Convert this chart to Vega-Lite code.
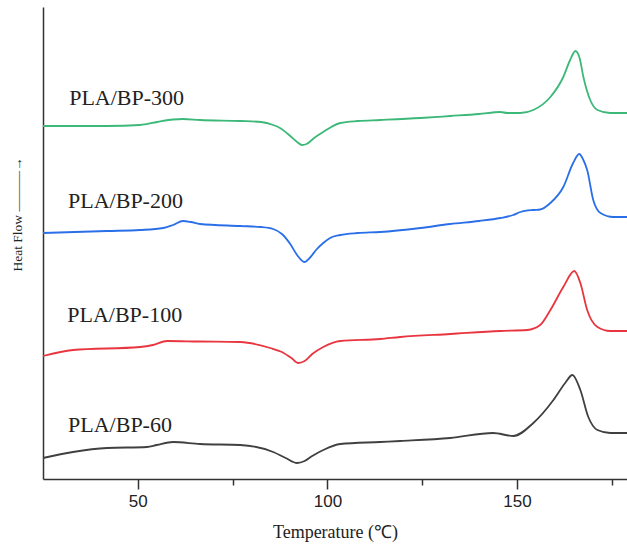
{
  "$schema": "https://vega.github.io/schema/vega-lite/v6.json",
  "autosize": {"type": "none"},
  "padding": {"left": 43, "top": 7, "right": 0, "bottom": 65},
  "width": 584,
  "height": 472,
  "background": "white",
  "config": {"view": {"stroke": null}, "axis": {"grid": false, "domainColor": "#333333", "domainWidth": 1.5, "tickColor": "#333333", "tickWidth": 1.5}},
  "datasets": {
    "curves": [
      {"sample": "PLA/BP-300", "T": 25.0, "hf": 353}, {"sample": "PLA/BP-300", "T": 41.9, "hf": 353}, {"sample": "PLA/BP-300", "T": 50.6, "hf": 354}, {"sample": "PLA/BP-300", "T": 55.1, "hf": 357}, {"sample": "PLA/BP-300", "T": 59.3, "hf": 359.5}, {"sample": "PLA/BP-300", "T": 61.9, "hf": 360}, {"sample": "PLA/BP-300", "T": 66.4, "hf": 359}, {"sample": "PLA/BP-300", "T": 77.0, "hf": 358}, {"sample": "PLA/BP-300", "T": 82.5, "hf": 357}, {"sample": "PLA/BP-300", "T": 85.7, "hf": 354}, {"sample": "PLA/BP-300", "T": 87.5, "hf": 351}, {"sample": "PLA/BP-300", "T": 90.2, "hf": 343}, {"sample": "PLA/BP-300", "T": 92.0, "hf": 337}, {"sample": "PLA/BP-300", "T": 93.3, "hf": 334}, {"sample": "PLA/BP-300", "T": 94.5, "hf": 335}, {"sample": "PLA/BP-300", "T": 96.5, "hf": 341}, {"sample": "PLA/BP-300", "T": 98.9, "hf": 347}, {"sample": "PLA/BP-300", "T": 101.0, "hf": 352}, {"sample": "PLA/BP-300", "T": 103.4, "hf": 356}, {"sample": "PLA/BP-300", "T": 108.0, "hf": 358}, {"sample": "PLA/BP-300", "T": 113.9, "hf": 359}, {"sample": "PLA/BP-300", "T": 124.5, "hf": 361}, {"sample": "PLA/BP-300", "T": 132.4, "hf": 363}, {"sample": "PLA/BP-300", "T": 140.0, "hf": 365}, {"sample": "PLA/BP-300", "T": 145.6, "hf": 367}, {"sample": "PLA/BP-300", "T": 147.5, "hf": 366}, {"sample": "PLA/BP-300", "T": 150.9, "hf": 366}, {"sample": "PLA/BP-300", "T": 154.3, "hf": 369}, {"sample": "PLA/BP-300", "T": 158.8, "hf": 382}, {"sample": "PLA/BP-300", "T": 162.2, "hf": 402}, {"sample": "PLA/BP-300", "T": 164.0, "hf": 419}, {"sample": "PLA/BP-300", "T": 165.4, "hf": 428}, {"sample": "PLA/BP-300", "T": 166.5, "hf": 421}, {"sample": "PLA/BP-300", "T": 167.5, "hf": 402}, {"sample": "PLA/BP-300", "T": 169.3, "hf": 379}, {"sample": "PLA/BP-300", "T": 171.2, "hf": 369}, {"sample": "PLA/BP-300", "T": 174.6, "hf": 366}, {"sample": "PLA/BP-300", "T": 179.0, "hf": 366},
      {"sample": "PLA/BP-200", "T": 25.0, "hf": 246}, {"sample": "PLA/BP-200", "T": 41.9, "hf": 248}, {"sample": "PLA/BP-200", "T": 50.6, "hf": 249}, {"sample": "PLA/BP-200", "T": 56.7, "hf": 251}, {"sample": "PLA/BP-200", "T": 59.3, "hf": 254}, {"sample": "PLA/BP-200", "T": 61.9, "hf": 258}, {"sample": "PLA/BP-200", "T": 64.0, "hf": 257}, {"sample": "PLA/BP-200", "T": 66.4, "hf": 255}, {"sample": "PLA/BP-200", "T": 77.0, "hf": 253}, {"sample": "PLA/BP-200", "T": 82.5, "hf": 252}, {"sample": "PLA/BP-200", "T": 85.7, "hf": 250}, {"sample": "PLA/BP-200", "T": 88.0, "hf": 245}, {"sample": "PLA/BP-200", "T": 90.2, "hf": 235}, {"sample": "PLA/BP-200", "T": 92.0, "hf": 224}, {"sample": "PLA/BP-200", "T": 93.9, "hf": 217}, {"sample": "PLA/BP-200", "T": 95.3, "hf": 221}, {"sample": "PLA/BP-200", "T": 97.0, "hf": 229}, {"sample": "PLA/BP-200", "T": 98.9, "hf": 236}, {"sample": "PLA/BP-200", "T": 100.7, "hf": 241}, {"sample": "PLA/BP-200", "T": 103.4, "hf": 244}, {"sample": "PLA/BP-200", "T": 108.0, "hf": 246}, {"sample": "PLA/BP-200", "T": 113.9, "hf": 247}, {"sample": "PLA/BP-200", "T": 124.5, "hf": 251}, {"sample": "PLA/BP-200", "T": 132.4, "hf": 255}, {"sample": "PLA/BP-200", "T": 140.0, "hf": 258}, {"sample": "PLA/BP-200", "T": 145.6, "hf": 261}, {"sample": "PLA/BP-200", "T": 149.0, "hf": 264}, {"sample": "PLA/BP-200", "T": 150.9, "hf": 267}, {"sample": "PLA/BP-200", "T": 154.3, "hf": 269}, {"sample": "PLA/BP-200", "T": 156.1, "hf": 269.5}, {"sample": "PLA/BP-200", "T": 158.8, "hf": 276}, {"sample": "PLA/BP-200", "T": 162.2, "hf": 292}, {"sample": "PLA/BP-200", "T": 164.8, "hf": 316}, {"sample": "PLA/BP-200", "T": 166.4, "hf": 325}, {"sample": "PLA/BP-200", "T": 167.5, "hf": 319}, {"sample": "PLA/BP-200", "T": 168.5, "hf": 309}, {"sample": "PLA/BP-200", "T": 170.1, "hf": 279}, {"sample": "PLA/BP-200", "T": 172.0, "hf": 266}, {"sample": "PLA/BP-200", "T": 175.4, "hf": 262}, {"sample": "PLA/BP-200", "T": 179.0, "hf": 262},
      {"sample": "PLA/BP-100", "T": 25.0, "hf": 123}, {"sample": "PLA/BP-100", "T": 32.9, "hf": 129}, {"sample": "PLA/BP-100", "T": 50.6, "hf": 132}, {"sample": "PLA/BP-100", "T": 54.0, "hf": 134}, {"sample": "PLA/BP-100", "T": 57.7, "hf": 138}, {"sample": "PLA/BP-100", "T": 66.0, "hf": 137.5}, {"sample": "PLA/BP-100", "T": 77.0, "hf": 137}, {"sample": "PLA/BP-100", "T": 84.9, "hf": 131}, {"sample": "PLA/BP-100", "T": 88.0, "hf": 127}, {"sample": "PLA/BP-100", "T": 90.5, "hf": 121}, {"sample": "PLA/BP-100", "T": 92.3, "hf": 116}, {"sample": "PLA/BP-100", "T": 94.0, "hf": 118}, {"sample": "PLA/BP-100", "T": 96.0, "hf": 125}, {"sample": "PLA/BP-100", "T": 98.9, "hf": 132}, {"sample": "PLA/BP-100", "T": 103.4, "hf": 138}, {"sample": "PLA/BP-100", "T": 113.9, "hf": 140}, {"sample": "PLA/BP-100", "T": 119.2, "hf": 142}, {"sample": "PLA/BP-100", "T": 132.4, "hf": 145}, {"sample": "PLA/BP-100", "T": 145.6, "hf": 148}, {"sample": "PLA/BP-100", "T": 152.7, "hf": 149}, {"sample": "PLA/BP-100", "T": 156.1, "hf": 154}, {"sample": "PLA/BP-100", "T": 158.8, "hf": 169}, {"sample": "PLA/BP-100", "T": 162.2, "hf": 192}, {"sample": "PLA/BP-100", "T": 165.1, "hf": 208}, {"sample": "PLA/BP-100", "T": 166.7, "hf": 196}, {"sample": "PLA/BP-100", "T": 168.5, "hf": 169}, {"sample": "PLA/BP-100", "T": 171.2, "hf": 152}, {"sample": "PLA/BP-100", "T": 174.6, "hf": 148}, {"sample": "PLA/BP-100", "T": 179.0, "hf": 148},
      {"sample": "PLA/BP-60", "T": 25.0, "hf": 21}, {"sample": "PLA/BP-60", "T": 32.9, "hf": 27}, {"sample": "PLA/BP-60", "T": 41.9, "hf": 31}, {"sample": "PLA/BP-60", "T": 52.4, "hf": 32}, {"sample": "PLA/BP-60", "T": 55.0, "hf": 34}, {"sample": "PLA/BP-60", "T": 59.3, "hf": 37}, {"sample": "PLA/BP-60", "T": 66.4, "hf": 35}, {"sample": "PLA/BP-60", "T": 77.0, "hf": 34}, {"sample": "PLA/BP-60", "T": 85.7, "hf": 27}, {"sample": "PLA/BP-60", "T": 89.0, "hf": 21}, {"sample": "PLA/BP-60", "T": 92.0, "hf": 16}, {"sample": "PLA/BP-60", "T": 94.0, "hf": 18}, {"sample": "PLA/BP-60", "T": 96.0, "hf": 23}, {"sample": "PLA/BP-60", "T": 98.9, "hf": 29}, {"sample": "PLA/BP-60", "T": 103.4, "hf": 35}, {"sample": "PLA/BP-60", "T": 113.9, "hf": 37}, {"sample": "PLA/BP-60", "T": 119.2, "hf": 38}, {"sample": "PLA/BP-60", "T": 132.4, "hf": 41}, {"sample": "PLA/BP-60", "T": 143.7, "hf": 46}, {"sample": "PLA/BP-60", "T": 149.0, "hf": 43}, {"sample": "PLA/BP-60", "T": 154.3, "hf": 56}, {"sample": "PLA/BP-60", "T": 159.6, "hf": 79}, {"sample": "PLA/BP-60", "T": 162.7, "hf": 96}, {"sample": "PLA/BP-60", "T": 164.6, "hf": 104}, {"sample": "PLA/BP-60", "T": 166.7, "hf": 89}, {"sample": "PLA/BP-60", "T": 168.8, "hf": 62}, {"sample": "PLA/BP-60", "T": 171.2, "hf": 49}, {"sample": "PLA/BP-60", "T": 174.6, "hf": 46}, {"sample": "PLA/BP-60", "T": 179.0, "hf": 46}
    ],
    "labels": [
      {"label": "PLA/BP-300", "T": 31.9, "hf": 374},
      {"label": "PLA/BP-200", "T": 31.6, "hf": 271},
      {"label": "PLA/BP-100", "T": 31.4, "hf": 157},
      {"label": "PLA/BP-60", "T": 31.6, "hf": 47}
    ]
  },
  "layer": [
    {
      "data": {"name": "curves"},
      "mark": {"type": "line", "interpolate": "monotone", "strokeWidth": 1.8},
      "encoding": {
        "x": {"field": "T", "type": "quantitative", "scale": {"domain": [25, 179], "nice": false, "zero": false},
              "axis": {"orient": "bottom", "values": [50, 100, 150], "tickSize": 10, "labelFont": "Liberation Sans", "labelFontSize": 17, "labelColor": "#222222", "labelPadding": 4,
                       "title": "Temperature (℃)", "titleFont": "Liberation Serif", "titleFontSize": 18, "titleFontWeight": "normal", "titleColor": "#222222", "titleY": 58, "titleBaseline": "alphabetic"}},
        "y": {"field": "hf", "type": "quantitative", "scale": {"domain": [0, 472], "nice": false, "zero": false},
              "axis": {"ticks": false, "labels": false, "title": "Heat Flow ———→", "titleFont": "Liberation Serif", "titleFontSize": 13.5, "titleFontWeight": "normal", "titleColor": "#222222", "titleX": -26, "titleY": 207, "titleAngle": -90, "titleAlign": "center", "titleBaseline": "middle"}},
        "color": {"field": "sample", "type": "nominal", "legend": null,
                  "scale": {"domain": ["PLA/BP-300", "PLA/BP-200", "PLA/BP-100", "PLA/BP-60"], "range": ["#3cb878", "#2a6ee8", "#e8353f", "#404040"]}},
        "detail": {"field": "sample"}
      }
    },
    {
      "data": {"name": "labels"},
      "mark": {"type": "text", "align": "left", "baseline": "alphabetic", "font": "Liberation Serif", "fontSize": 22, "color": "#222222"},
      "encoding": {
        "x": {"field": "T", "type": "quantitative", "axis": {"orient": "bottom", "values": [75, 125, 175], "labels": false, "tickSize": 6, "domain": false, "title": null}},
        "y": {"field": "hf", "type": "quantitative"},
        "text": {"field": "label"}
      }
    },
    {
      "mark": {"type": "rule", "color": "#333333", "strokeWidth": 1.5},
      "encoding": {"y": {"datum": 472}}
    }
  ],
  "resolve": {"axis": {"x": "independent"}}
}
